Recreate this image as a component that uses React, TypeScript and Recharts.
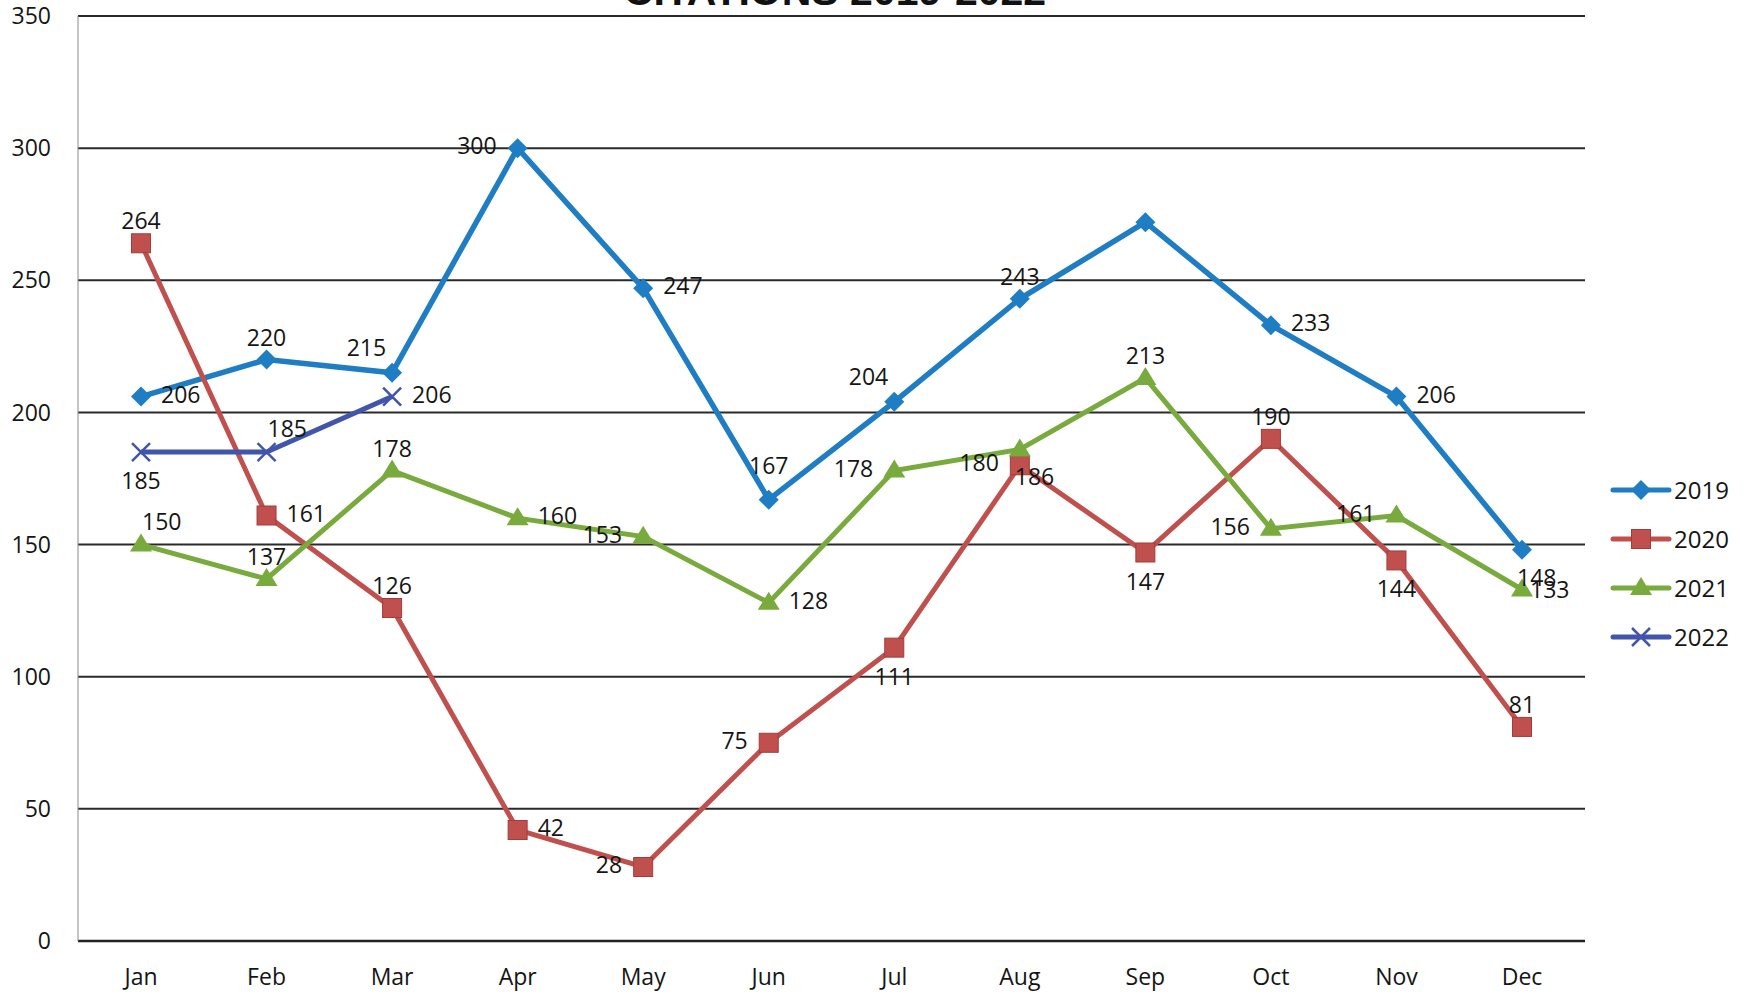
import React from "react";
import { CartesianGrid, LabelList, Line, LineChart, XAxis, YAxis } from "recharts";

const months = ["Jan", "Feb", "Mar", "Apr", "May", "Jun", "Jul", "Aug", "Sep", "Oct", "Nov", "Dec"];
const values2019 = [206, 220, 215, 300, 247, 167, 204, 243, 272, 233, 206, 148];
const values2020 = [264, 161, 126, 42, 28, 75, 111, 180, 147, 190, 144, 81];
const values2021 = [150, 137, 178, 160, 153, 128, 178, 186, 213, 156, 161, 133];
const values2022 = [185, 185, 206, null, null, null, null, null, null, null, null, null];
const yTicks = [0, 50, 100, 150, 200, 250, 300, 350];

// where each data label sits relative to its point (styling, not data)
const labelPos2019 = ["right", "top", "topLeft", "left", "right", "topHigh", "topLeft", "top", "none", "right", "right", "bottomRight"];
const labelPos2020 = ["top", "right", "top", "right", "left", "left", "bottom", "left", "bottom", "top", "bottom", "top"];
const labelPos2021 = ["topRight", "top", "top", "right", "left", "right", "left", "bottomRight", "top", "left", "left", "rightNear"];
const labelPos2022 = ["bottom", "topRight", "right"];

const FONT = "'Open Sans', 'Liberation Sans', sans-serif";

const COLORS = {
  y2019: "#1f7dc4",
  y2020: "#c0504d",
  y2021: "#79aa3d",
  y2022: "#4156aa",
};

const chartData = months.map((month, i) => ({
  month,
  y2019: values2019[i],
  y2020: values2020[i],
  y2021: values2021[i],
  y2022: values2022[i],
}));

function makeLabel(positions: string[]) {
  return (props: any) => {
    const { x, y, value, index } = props;
    const pos = positions[index];
    if (value == null || x == null || !pos || pos === "none") return null;
    let tx = x;
    let ty = y;
    let anchor: "start" | "middle" | "end" = "middle";
    switch (pos) {
      case "right":
        tx = x + 20;
        ty = y + 6;
        anchor = "start";
        break;
      case "rightNear":
        tx = x + 8;
        ty = y + 8;
        anchor = "start";
        break;
      case "left":
        tx = x - 21;
        ty = y + 6;
        anchor = "end";
        break;
      case "top":
        ty = y - 14;
        break;
      case "topHigh":
        ty = y - 26;
        break;
      case "bottom":
        ty = y + 37;
        break;
      case "topLeft":
        tx = x - 6;
        ty = y - 17;
        anchor = "end";
        break;
      case "topRight":
        tx = x + 1;
        ty = y - 15;
        anchor = "start";
        break;
      case "bottomRight":
        tx = x - 5;
        ty = y + 36;
        anchor = "start";
        break;
    }
    return (
      <text x={tx} y={ty} textAnchor={anchor} fontSize={23} fontFamily={FONT} fill="#151515">
        {value}
      </text>
    );
  };
}

function Diamond({ cx, cy, color }: { cx: number; cy: number; color: string }) {
  return <polygon points={`${cx},${cy - 10} ${cx + 10},${cy} ${cx},${cy + 10} ${cx - 10},${cy}`} fill={color} />;
}

function Square({ cx, cy, color }: { cx: number; cy: number; color: string }) {
  return <rect x={cx - 9.5} y={cy - 9.5} width={19} height={19} fill={color} stroke="#a33c3a" strokeWidth={1} />;
}

function Triangle({ cx, cy, color }: { cx: number; cy: number; color: string }) {
  return <polygon points={`${cx},${cy - 11} ${cx + 11},${cy + 7} ${cx - 11},${cy + 7}`} fill={color} />;
}

function Cross({ cx, cy, color }: { cx: number; cy: number; color: string }) {
  return (
    <g stroke={color} strokeWidth={2.5}>
      <line x1={cx - 9} y1={cy - 9} x2={cx + 9} y2={cy + 9} />
      <line x1={cx - 9} y1={cy + 9} x2={cx + 9} y2={cy - 9} />
    </g>
  );
}

function makeDot(Shape: any, color: string) {
  return (props: any) => {
    const { cx, cy, index, value } = props;
    if (cx == null || cy == null || value == null) return <g key={`d-${index}`} />;
    return (
      <g key={`d-${index}`}>
        <Shape cx={cx} cy={cy} color={color} />
      </g>
    );
  };
}

const legendItems = [
  { name: "2019", color: COLORS.y2019, Shape: Diamond },
  { name: "2020", color: COLORS.y2020, Shape: Square },
  { name: "2021", color: COLORS.y2021, Shape: Triangle },
  { name: "2022", color: COLORS.y2022, Shape: Cross },
];

function ChartLegend() {
  return (
    <div style={{ position: "absolute", left: 1610, top: 465 }}>
      {legendItems.map((item) => (
        <div key={item.name} style={{ display: "flex", alignItems: "center", height: 49 }}>
          <svg width={62} height={24}>
            <line x1={3} y1={12} x2={59} y2={12} stroke={item.color} strokeWidth={5} strokeLinecap="round" />
            <item.Shape cx={31} cy={12} color={item.color} />
          </svg>
          <span style={{ fontFamily: FONT, fontSize: 24, color: "#151515", marginLeft: 2 }}>{item.name}</span>
        </div>
      ))}
    </div>
  );
}

export default function App() {
  return (
    <div style={{ position: "absolute", left: 0, top: 0, width: 1752, height: 996, background: "#fff" }}>
      <LineChart width={1752} height={996} data={chartData} margin={{ top: 16, right: 167, bottom: 0, left: 0 }}>
        <CartesianGrid vertical={false} stroke="#2a2a2a" strokeWidth={2} />
        <XAxis
          dataKey="month"
          height={55}
          padding={{ left: 63, right: 63 }}
          axisLine={{ stroke: "#222", strokeWidth: 2.5 }}
          tickLine={false}
          tickSize={0}
          tickMargin={28}
          tick={{ fill: "#151515", fontSize: 23, fontFamily: FONT }}
        />
        <YAxis
          width={78}
          domain={[0, 350]}
          ticks={yTicks}
          interval={0}
          axisLine={{ stroke: "#8a8a8a", strokeWidth: 1 }}
          tickLine={false}
          tickSize={0}
          tickMargin={27}
          tick={{ fill: "#151515", fontSize: 23, fontFamily: FONT }}
        />
        <Line
          dataKey="y2019"
          name="2019"
          stroke={COLORS.y2019}
          strokeWidth={5.5}
          dot={makeDot(Diamond, COLORS.y2019)}
          activeDot={false}
          isAnimationActive={false}
        >
          <LabelList dataKey="y2019" content={makeLabel(labelPos2019)} />
        </Line>
        <Line
          dataKey="y2020"
          name="2020"
          stroke={COLORS.y2020}
          strokeWidth={5}
          dot={makeDot(Square, COLORS.y2020)}
          activeDot={false}
          isAnimationActive={false}
        >
          <LabelList dataKey="y2020" content={makeLabel(labelPos2020)} />
        </Line>
        <Line
          dataKey="y2021"
          name="2021"
          stroke={COLORS.y2021}
          strokeWidth={5}
          dot={makeDot(Triangle, COLORS.y2021)}
          activeDot={false}
          isAnimationActive={false}
        >
          <LabelList dataKey="y2021" content={makeLabel(labelPos2021)} />
        </Line>
        <Line
          dataKey="y2022"
          name="2022"
          stroke={COLORS.y2022}
          strokeWidth={5}
          dot={makeDot(Cross, COLORS.y2022)}
          activeDot={false}
          isAnimationActive={false}
        >
          <LabelList dataKey="y2022" content={makeLabel(labelPos2022)} />
        </Line>
      </LineChart>
      <ChartLegend />
      <svg width={1752} height={30} style={{ position: "absolute", left: 0, top: 0, pointerEvents: "none" }}>
        <text x={835} y={5} textAnchor="middle" fontSize={41} fontWeight={700} fontFamily="'Liberation Sans', Arial, sans-serif" fill="#111">
          CITATIONS 2019-2022
        </text>
      </svg>
    </div>
  );
}
